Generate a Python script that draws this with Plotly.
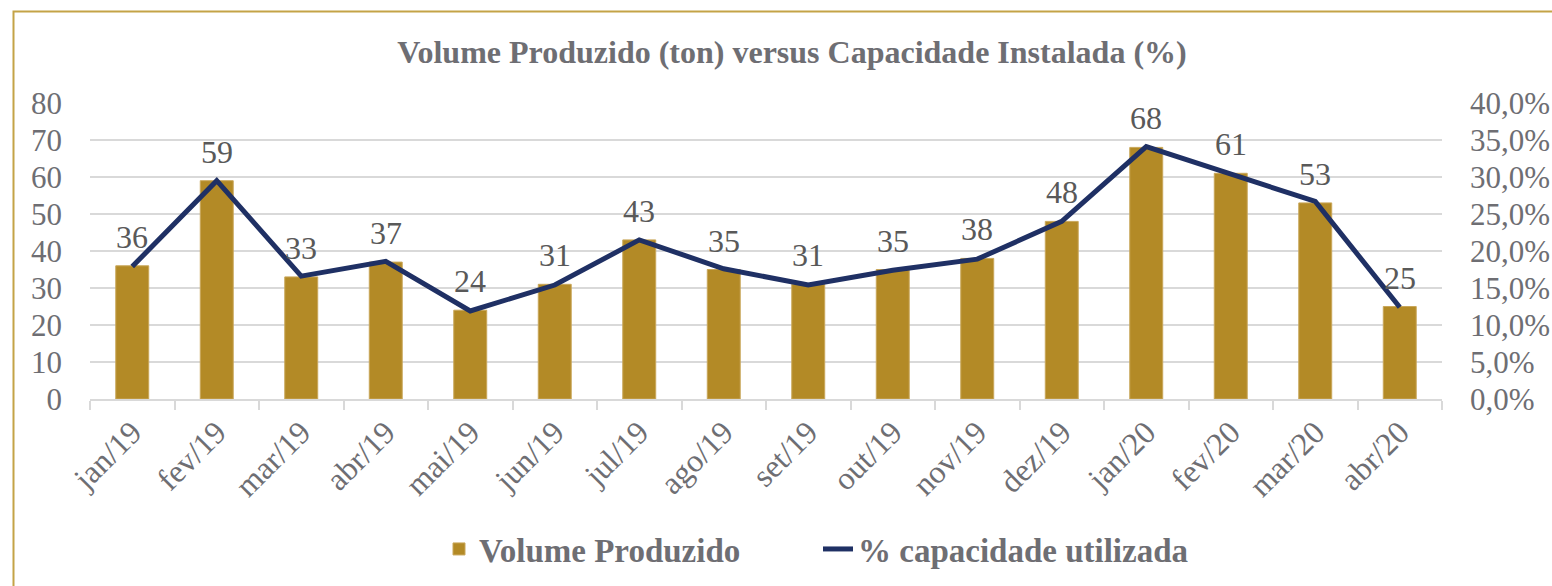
import plotly.graph_objects as go

months = ["jan/19", "fev/19", "mar/19", "abr/19", "mai/19", "jun/19", "jul/19", "ago/19",
          "set/19", "out/19", "nov/19", "dez/19", "jan/20", "fev/20", "mar/20", "abr/20"]
volume = [36, 59, 33, 37, 24, 31, 43, 35, 31, 35, 38, 48, 68, 61, 53, 25]
capacity = [17.9, 29.5, 16.6, 18.6, 11.9, 15.4, 21.5, 17.6, 15.4, 17.4, 18.9, 24.0, 34.1, 30.4, 26.7, 12.4]

left_ticks = [0, 10, 20, 30, 40, 50, 60, 70, 80]
right_ticks = [0, 5, 10, 15, 20, 25, 30, 35, 40]
right_labels = [f"{v:.1f}%".replace(".", ",") for v in right_ticks]

GOLD = "#B38A26"
NAVY = "#1F3064"
GREY = "#6E6E73"
GRID = "#D9D9D9"
FONT = "Liberation Serif"

OFF = 0  # page body margin (removed via post_script)
W, H = 1552, 586
ml = 90 - OFF
mt = 103 - OFF
pw, ph = 1352, 296
mr = W - ml - pw
mb = H - mt - ph


def px_x(px):
    return (px - OFF - ml) / pw


def px_y(py):
    return (mt + ph - (py - OFF)) / ph


fig = go.Figure()
fig.add_trace(go.Bar(
    x=months, y=volume, name="Volume Produzido",
    marker=dict(color=GOLD, line=dict(color="#C9A75A", width=1)),
    yaxis="y",
))
fig.add_trace(go.Scatter(
    x=months, y=capacity, name="% capacidade utilizada",
    mode="lines", line=dict(color=NAVY, width=5),
    yaxis="y2",
))

for m, v in zip(months, volume):
    fig.add_annotation(x=m, y=v, xref="x", yref="y", text=str(v), showarrow=False,
                       yanchor="middle", yshift=29,
                       font=dict(family=FONT, size=32, color="#595959"))

fig.add_shape(type="rect", xref="paper", yref="paper",
              x0=px_x(13.5), x1=px_x(1700),
              y0=px_y(700), y1=px_y(11.5),
              line=dict(color="#C4A347", width=2), layer="below")

fig.update_layout(
    width=W, height=H,
    margin=dict(l=ml, r=mr, t=mt, b=mb, autoexpand=False),
    paper_bgcolor="white", plot_bgcolor="white",
    title=dict(text="<b>Volume Produzido (ton) versus Capacidade Instalada (%)</b>",
               x=(792 - OFF) / W, xanchor="center", y=1 - (52 - OFF) / H, yanchor="middle",
               font=dict(family=FONT, size=32, color=GREY)),
    bargap=0.61,
    showlegend=True,
    legend=dict(orientation="h", x=px_x(439), xanchor="left",
                y=px_y(549), yanchor="middle", xref="paper", yref="paper",
                font=dict(family=FONT, size=33, color=GREY, weight="bold"),
                entrywidth=334, entrywidthmode="pixels", traceorder="normal"),
    xaxis=dict(showgrid=False, showline=True, linecolor=GRID, linewidth=1.5, automargin=False,
               ticks="outside", tickson="boundaries", ticklen=9, tickcolor=GRID, tickwidth=1.5,
               tickangle=-45, tickfont=dict(family=FONT, size=32, color=GREY)),
    yaxis=dict(range=[0, 80], tickvals=left_ticks, showgrid=True, gridcolor=GRID, gridwidth=1.5,
               zeroline=False, tickfont=dict(family=FONT, size=31, color=GREY), automargin=False,
               ticklabelstandoff=27),
    yaxis2=dict(range=[0, 40], tickvals=right_ticks, ticktext=right_labels, overlaying="y",
                side="right", showgrid=False, zeroline=False, automargin=False,
                tickfont=dict(family=FONT, size=31, color=GREY), ticklabelstandoff=27),
)

fig.write_html("out.html", config={"displayModeBar": False},
               post_script="document.body.style.margin='0';document.body.style.overflow='hidden';")
